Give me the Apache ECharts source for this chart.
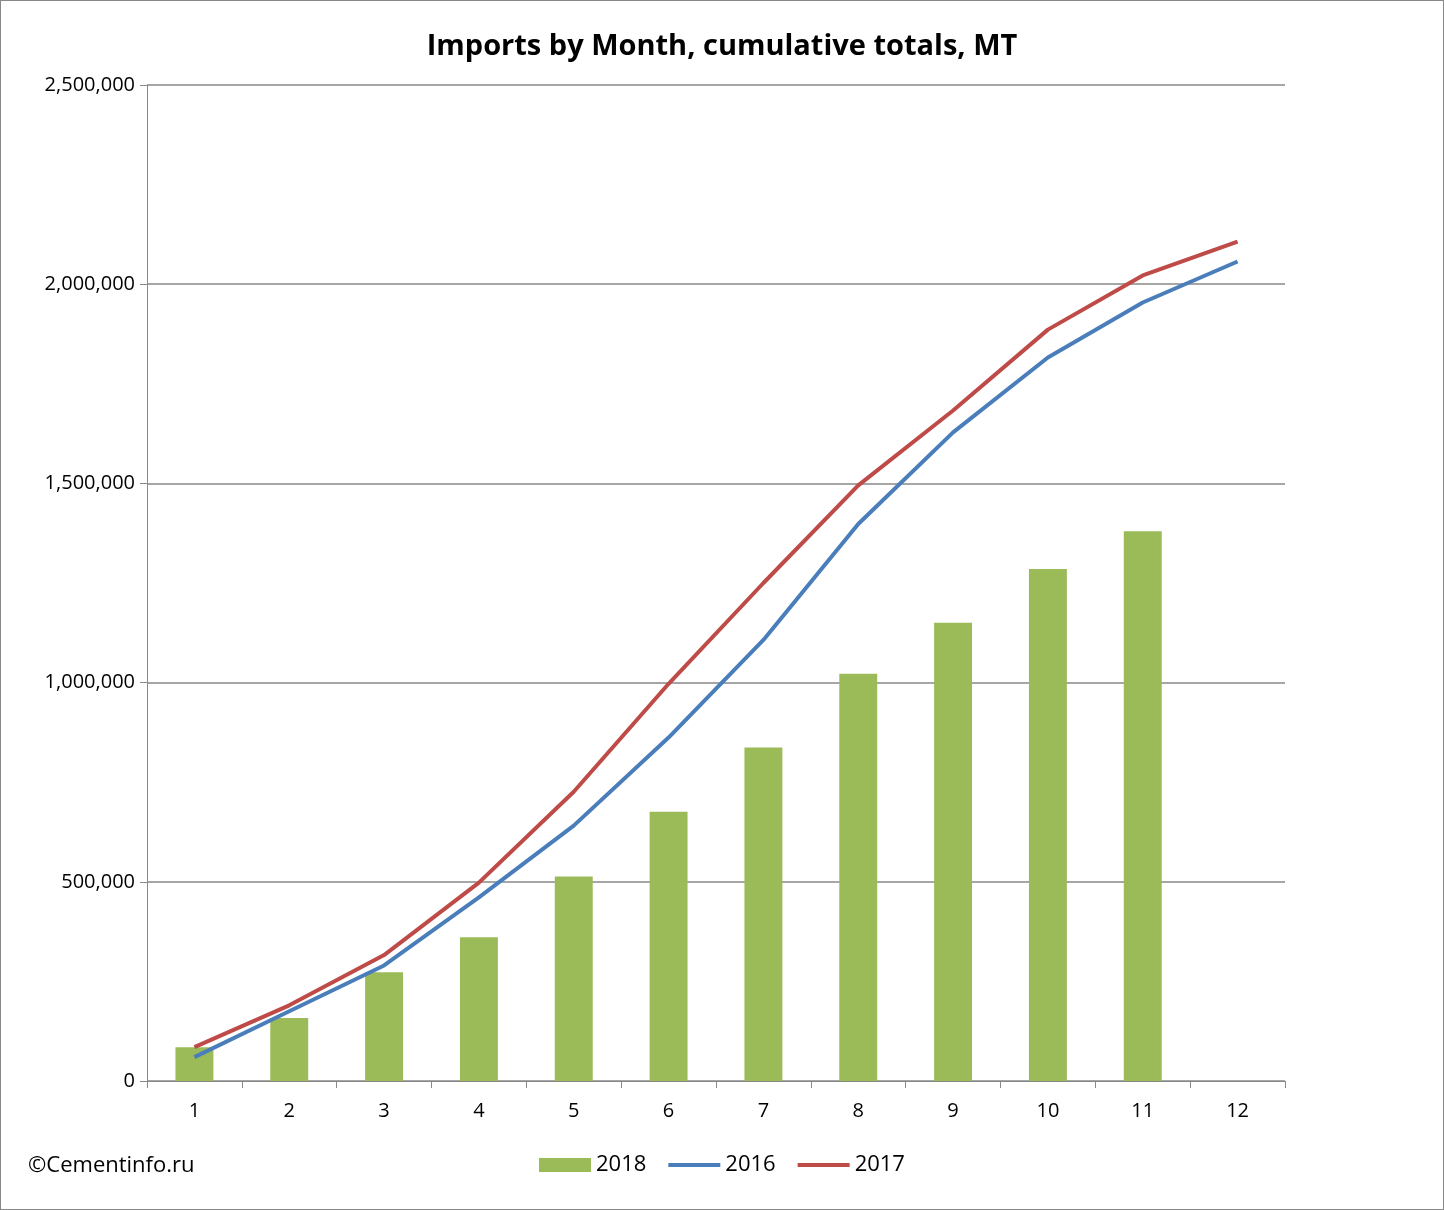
<!DOCTYPE html>
<html>
<head>
<meta charset="utf-8">
<script src="https://cdn.jsdelivr.net/npm/echarts@6/dist/echarts.min.js"></script>
<style>
html,body{margin:0;padding:0;background:#fff;}
#main{width:1444px;height:1210px;box-sizing:border-box;border:1px solid #888;}
</style>
</head>
<body>
<div id="main"></div>
<script>
var months = ['1','2','3','4','5','6','7','8','9','10','11','12'];
var y2018 = [85000,158000,273000,361000,513000,676000,837000,1022000,1150000,1285000,1380000,null];
var y2016 = [60000,175000,290000,461000,641000,862000,1107000,1398000,1628000,1816000,1954000,2057000];
var y2017 = [85000,190000,316000,498000,726000,997000,1250000,1495000,1683000,1886000,2022000,2107000];

var chart = echarts.init(document.getElementById('main'));
var font = 'Open Sans, Liberation Sans, sans-serif';
chart.setOption({
    animation: false,
    textStyle: {fontFamily: font},
    title: {
        text: 'Imports by Month, cumulative totals, MT',
        left: 'center', top: 26,
        textStyle: {fontSize: 29, fontWeight: 'bold', color: '#000', fontFamily: font}
    },
    graphic: [{
        type: 'text', left: 27, top: 1154,
        style: {text: '©Cementinfo.ru', font: '22px ' + font, fill: '#000'}
    }],
    legend: {
        bottom: 28, left: 533,
        itemWidth: 52, itemHeight: 14, itemGap: 22,
        textStyle: {fontSize: 22, color: '#000'},
        data: [
            {name: '2018', icon: 'rect'},
            {name: '2016', icon: 'path://M0,6h52v4h-52z'},
            {name: '2017', icon: 'path://M0,6h52v4h-52z'}
        ]
    },
    grid: {left: 146, right: 158, top: 84, bottom: 128},
    xAxis: {
        type: 'category', data: months,
        axisLine: {lineStyle: {color: '#888'}},
        axisTick: {show: true, length: 7, lineStyle: {color: '#888'}},
        axisLabel: {fontSize: 20, color: '#000', margin: 20}
    },
    yAxis: {
        type: 'value', min: 0, max: 2500000, interval: 500000,
        axisLine: {show: true, lineStyle: {color: '#888'}},
        axisTick: {show: true, length: 7, lineStyle: {color: '#888'}},
        axisLabel: {fontSize: 20, color: '#000', margin: 12},
        splitLine: {lineStyle: {color: '#888', width: 1.5}}
    },
    series: [
        {name: '2018', type: 'bar', data: y2018, barWidth: '40%',
         itemStyle: {color: '#9bbb59'}},
        {name: '2016', type: 'line', data: y2016, symbol: 'none',
         lineStyle: {color: '#4a7ebb', width: 4}, itemStyle: {color: '#4a7ebb'}},
        {name: '2017', type: 'line', data: y2017, symbol: 'none',
         lineStyle: {color: '#be4b48', width: 4}, itemStyle: {color: '#be4b48'}}
    ]
});
</script>
</body>
</html>
